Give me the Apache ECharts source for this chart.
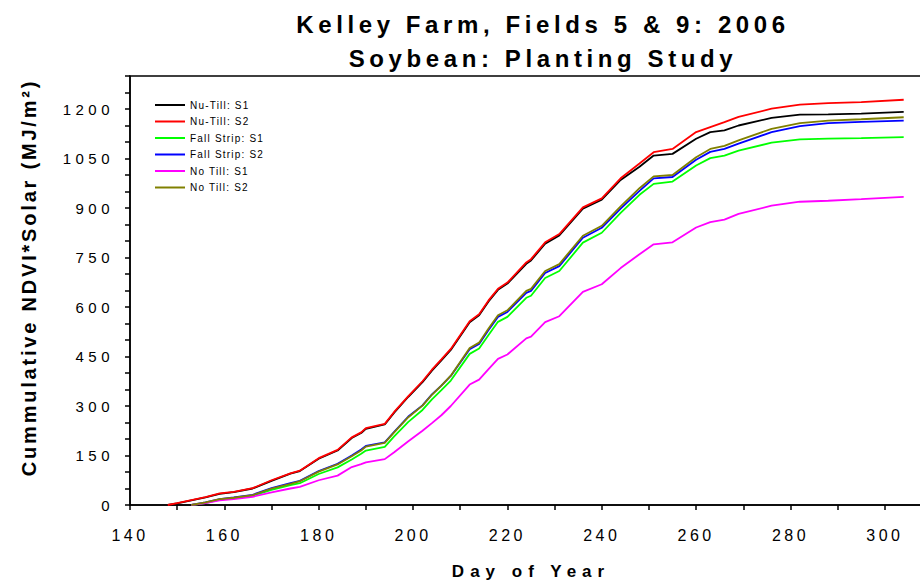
<!DOCTYPE html>
<html>
<head>
<meta charset="utf-8">
<script src="https://cdn.jsdelivr.net/npm/echarts@6/dist/echarts.min.js"></script>
<style>
html, body { margin: 0; padding: 0; background: #fff; }
#main { width: 920px; height: 580px; }
/* the reference text is stretched sideways, letter spacing stands in for that */
#main text[style*="24px"] { letter-spacing: 4.6px; }
#main text[style*="20px"] { letter-spacing: 2.8px; }
#main text[style*="17px"] { letter-spacing: 6px; }
#main text[style*="16px"] { letter-spacing: 3.5px; }
#main text[style*="15px"] { letter-spacing: 4.5px; }
#main text[style*="10px"] { letter-spacing: 1.2px; }
</style>
</head>
<body>
<div id="main"></div>
<script>
var days = [148, 150, 153, 156, 159, 162, 166, 170, 174, 176, 180, 184, 187, 189, 190, 194, 196, 199, 202, 204, 206, 208,
    212, 214, 216, 218, 220, 224, 225, 228, 231, 236, 240, 244, 248, 251, 255, 260, 263, 266, 269, 276, 282, 288, 295, 304];

var nuTillS1 = [0, 5, 14, 23, 34, 39, 50, 73, 95, 103, 140, 165, 203, 218, 231, 244, 280, 328, 372, 407, 438, 470,
    554, 575, 617, 652, 671, 731, 741, 792, 817, 898, 925, 985, 1025, 1059, 1064, 1110, 1130, 1135, 1150, 1173, 1183, 1184, 1186, 1191];
var nuTillS2 = [0, 6, 15, 24, 35, 40, 51, 75, 96, 104, 142, 167, 205, 220, 233, 246, 282, 330, 375, 410, 441, 473,
    557, 578, 620, 655, 674, 735, 745, 796, 821, 902, 929, 990, 1035, 1069, 1079, 1130, 1145, 1160, 1176, 1201, 1213, 1218, 1221, 1228];
var fallStripS1 = [null, null, 0, 6, 16, 21, 28, 46, 60, 66, 94, 114, 138, 155, 165, 176, 208, 252, 288, 320, 348, 377,
    458, 474, 515, 555, 570, 628, 634, 688, 709, 795, 825, 885, 940, 973, 980, 1029, 1051, 1059, 1074, 1098, 1108, 1110, 1112, 1115];
var fallStripS2 = [null, null, 0, 8, 18, 23, 31, 51, 66, 73, 103, 125, 150, 168, 179, 190, 222, 268, 302, 335, 362, 391,
    472, 488, 530, 570, 585, 643, 649, 703, 724, 810, 840, 898, 952, 990, 994, 1046, 1070, 1079, 1095, 1130, 1148, 1157, 1161, 1165];
var noTillS1 = [null, null, 0, 6, 14, 18, 25, 38, 50, 55, 75, 89, 115, 124, 129, 139, 160, 193, 225, 248, 272, 300,
    365, 380, 412, 443, 456, 505, 510, 554, 572, 646, 669, 718, 760, 790, 796, 841, 857, 865, 882, 907, 919, 922, 927, 934];
var noTillS2 = [null, null, 0, 8, 18, 22, 30, 50, 64, 72, 101, 123, 148, 165, 177, 188, 220, 266, 301, 334, 362, 392,
    476, 492, 535, 575, 590, 649, 655, 709, 730, 816, 846, 905, 960, 996, 1000, 1054, 1079, 1088, 1105, 1140, 1157, 1165, 1169, 1175];

var seriesNames = ['Nu-Till: S1', 'Nu-Till: S2', 'Fall Strip: S1', 'Fall Strip: S2', 'No Till: S1', 'No Till: S2'];
var seriesValues = [nuTillS1, nuTillS2, fallStripS1, fallStripS2, noTillS1, noTillS2];
var seriesColors = ['#000000', '#ff0000', '#00ff00', '#0000ff', '#ff00ff', '#808000'];

var font = 'Liberation Sans, Arial, sans-serif';

function pairs(values) {
    var out = [];
    for (var i = 0; i < days.length; i++) {
        if (values[i] != null) out.push([days[i], values[i]]);
    }
    return out;
}

var chartDom = document.getElementById('main');
var myChart = echarts.init(chartDom, null, { renderer: 'svg' });
var option;

option = {
    backgroundColor: '#fff',
    animation: false,
    title: {
        text: 'Kelley Farm, Fields 5 & 9: 2006\nSoybean: Planting Study',
        left: 538,
        top: 2,
        textAlign: 'center',
        textStyle: {
            fontFamily: font,
            fontSize: 24,
            fontWeight: 'bold',
            lineHeight: 34,
            color: '#000'
        }
    },
    legend: {
        orient: 'vertical',
        left: 150,
        top: 94,
        icon: 'rect',
        itemWidth: 30,
        itemHeight: 2,
        itemGap: 4.5,
        data: seriesNames,
        textStyle: {
            fontFamily: font,
            fontSize: 10,
            lineHeight: 12,
            color: '#000'
        }
    },
    grid: {
        left: 130,
        top: 76,
        right: -12,   // the plot runs past the right edge of the picture
        bottom: 75,
        outerBoundsMode: 'none',
        show: true,
        borderColor: '#000',
        borderWidth: 1.5
    },
    xAxis: {
        type: 'value',
        min: 140,
        max: 310,
        interval: 10,
        name: 'Day of Year',
        nameLocation: 'middle',
        nameGap: 58,
        nameTextStyle: { fontFamily: font, fontSize: 17, fontWeight: 'bold', color: '#000' },
        splitLine: { show: false },
        axisLine: { lineStyle: { color: '#000', width: 1.5 } },
        axisTick: { length: 5, lineStyle: { color: '#000', width: 1.5 } },
        axisLabel: {
            margin: 22,
            fontFamily: font,
            fontSize: 16,
            color: '#000',
            showMaxLabel: false,
            formatter: function (v) {
                return (v % 20 === 0 && v <= 300) ? String(v) : '';
            }
        }
    },
    yAxis: {
        type: 'value',
        min: 0,
        max: 1300,
        interval: 50,
        name: 'Cummulative NDVI*Solar (MJ/m²)',
        nameLocation: 'middle',
        nameGap: 91,
        nameTextStyle: { fontFamily: font, fontSize: 20, fontWeight: 'bold', color: '#000', padding: [0, 0, 0, 26] },
        splitLine: { show: false },
        axisLine: { lineStyle: { color: '#000', width: 1.5 } },
        axisTick: { length: 5, lineStyle: { color: '#000', width: 1.5 } },
        axisLabel: {
            margin: 16,
            fontFamily: font,
            fontSize: 15,
            color: '#000',
            formatter: function (v) {
                return (v % 150 === 0 && v <= 1200) ? String(v) : '';
            }
        }
    },
    series: seriesNames.map(function (name, i) {
        return {
            name: name,
            type: 'line',
            data: pairs(seriesValues[i]),
            showSymbol: false,
            symbol: 'none',
            color: seriesColors[i],
            lineStyle: { width: 1.8, color: seriesColors[i] }
        };
    })
};

option && myChart.setOption(option);
window.onresize = function () {
    myChart.resize();
};
</script>
</body>
</html>
